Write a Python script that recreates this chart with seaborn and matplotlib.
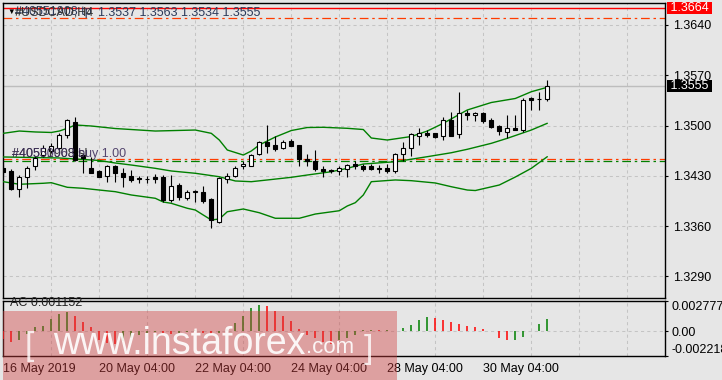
import numpy as np
import pandas as pd
import matplotlib
matplotlib.use("Agg")
import matplotlib.pyplot as plt
import matplotlib.transforms as mtransforms
from matplotlib.patches import Rectangle
import seaborn as sns

sns.set_style("white")
plt.rcParams['font.family'] = ['Liberation Sans', 'DejaVu Sans']

# ---------------- data (USDCAD H4 candles) ----------------
opens = [1.3441, 1.3436, 1.3411, 1.3429, 1.3443, 1.3459, 1.3465, 1.3468, 1.3487, 1.3505,
         1.3459, 1.3441, 1.3436, 1.3430, 1.3443, 1.3434, 1.3430, 1.3427, 1.3426, 1.3429,
         1.3428, 1.3396, 1.3417, 1.3399, 1.3407, 1.3408, 1.3398, 1.3366, 1.3426, 1.3430,
         1.3443, 1.3444, 1.3460, 1.3477, 1.3473, 1.3469, 1.3478, 1.3473, 1.3453, 1.3450,
         1.3439, 1.3438, 1.3436, 1.3440, 1.3446, 1.3444, 1.3443, 1.3441, 1.3441, 1.3436,
         1.3460, 1.3468, 1.3486, 1.3490, 1.3489, 1.3486, 1.3508, 1.3488, 1.3518, 1.3514,
         1.3518, 1.3508, 1.3500, 1.3491, 1.3496, 1.3494, 1.3538, 1.3537, 1.3537]
highs = [1.3445, 1.3440, 1.3431, 1.3444, 1.3458, 1.3473, 1.3476, 1.3490, 1.3509, 1.3512,
         1.3462, 1.3456, 1.3438, 1.3445, 1.3445, 1.3441, 1.3438, 1.3430, 1.3430, 1.3433,
         1.3431, 1.3431, 1.3420, 1.3410, 1.3410, 1.3416, 1.3399, 1.3429, 1.3434, 1.3443,
         1.3450, 1.3461, 1.3479, 1.3501, 1.3485, 1.3480, 1.3481, 1.3473, 1.3461, 1.3466,
         1.3443, 1.3440, 1.3444, 1.3447, 1.3450, 1.3446, 1.3446, 1.3445, 1.3446, 1.3462,
         1.3477, 1.3490, 1.3496, 1.3494, 1.3490, 1.3512, 1.3519, 1.3546, 1.3522, 1.3519,
         1.3519, 1.3510, 1.3501, 1.3515, 1.3515, 1.3538, 1.3539, 1.3547, 1.3563]
lows = [1.3431, 1.3410, 1.3400, 1.3413, 1.3438, 1.3456, 1.3462, 1.3466, 1.3483, 1.3450,
        1.3434, 1.3434, 1.3428, 1.3422, 1.3422, 1.3415, 1.3422, 1.3420, 1.3420, 1.3420,
        1.3394, 1.3394, 1.3396, 1.3396, 1.3394, 1.3392, 1.3357, 1.3364, 1.3420, 1.3429,
        1.3440, 1.3443, 1.3459, 1.3462, 1.3464, 1.3467, 1.3471, 1.3444, 1.3443, 1.3437,
        1.3429, 1.3434, 1.3431, 1.3429, 1.3439, 1.3437, 1.3438, 1.3434, 1.3434, 1.3434,
        1.3450, 1.3457, 1.3473, 1.3484, 1.3482, 1.3480, 1.3485, 1.3482, 1.3508, 1.3506,
        1.3504, 1.3497, 1.3487, 1.3483, 1.3494, 1.3491, 1.3521, 1.3522, 1.3534]
closes = [1.3435, 1.3411, 1.3429, 1.3441, 1.3455, 1.3469, 1.3471, 1.3487, 1.3508, 1.3452,
          1.3455, 1.3434, 1.3429, 1.3444, 1.3434, 1.3429, 1.3424, 1.3425, 1.3426, 1.3425,
          1.3396, 1.3416, 1.3401, 1.3408, 1.3409, 1.3395, 1.3368, 1.3427, 1.3430, 1.3441,
          1.3446, 1.3459, 1.3477, 1.3472, 1.3467, 1.3477, 1.3472, 1.3453, 1.3450, 1.3439,
          1.3437, 1.3436, 1.3441, 1.3445, 1.3443, 1.3439, 1.3440, 1.3439, 1.3437, 1.3461,
          1.3468, 1.3488, 1.3490, 1.3487, 1.3484, 1.3508, 1.3486, 1.3518, 1.3514, 1.3518,
          1.3506, 1.3498, 1.3493, 1.3496, 1.3494, 1.3536, 1.3535, 1.3537, 1.3555]

# Bollinger bands (read at selected candles)
bb_upper_idx = [0, 2, 4, 6, 7, 8, 9, 11, 14, 19, 24, 26, 27, 28, 30, 31, 32, 34, 36, 38,
                40, 43, 45, 46, 48, 51, 53, 55, 58, 61, 64, 66, 68]
bb_upper = [1.34891, 1.34923, 1.34910, 1.34903, 1.34923, 1.34961, 1.35007, 1.34993, 1.34958,
            1.34923, 1.34937, 1.34891, 1.34798, 1.34659, 1.34589, 1.34645, 1.34729, 1.34840,
            1.34930, 1.34972, 1.34975, 1.34961, 1.34944, 1.34826, 1.34798, 1.34847, 1.34923,
            1.35031, 1.35216, 1.35320, 1.35376, 1.35470, 1.35532]
bb_mid_idx = [0, 7, 12, 14, 16, 19, 21, 24, 27, 29, 31, 33, 36, 38, 41, 43, 45, 49, 53, 56,
              58, 61, 63, 66, 68]
bb_mid = [1.34562, 1.34548, 1.34513, 1.34478, 1.34450, 1.34404, 1.34367, 1.34335, 1.34287,
          1.34228, 1.34218, 1.34242, 1.34279, 1.34311, 1.34357, 1.34404, 1.34464, 1.34496,
          1.34566, 1.34621, 1.34669, 1.34752, 1.34822, 1.34937, 1.35031]
bb_lower_idx = [0, 2, 5, 6, 8, 10, 12, 14, 16, 19, 20, 21, 23, 24, 25, 26, 27, 28, 30, 32,
                34, 37, 39, 42, 43, 44, 45, 46, 49, 51, 54, 56, 58, 59, 62, 64, 66, 68]
bb_lower = [1.34218, 1.34182, 1.34196, 1.34204, 1.34140, 1.34126, 1.34102, 1.34079, 1.34033,
            1.33987, 1.33935, 1.33917, 1.33848, 1.33824, 1.33754, 1.33685, 1.33699, 1.33800,
            1.33838, 1.33786, 1.33709, 1.33709, 1.33768, 1.33814, 1.33880, 1.33926, 1.34033,
            1.34218, 1.34242, 1.34232, 1.34200, 1.34148, 1.34102, 1.34095, 1.34172, 1.34283,
            1.34404, 1.34566]

# Accelerator oscillator
ac_values = [-0.00073, -0.00100, -0.00082, -0.00027, 0.00039, 0.00045, 0.00115, 0.00161,
             0.00175, 0.00139, 0.00084, 0.00039, -0.00082, -0.00109, -0.00118, -0.00091,
             -0.00064, -0.00036, -0.00018, -0.00009, -0.00018, -0.00027, -0.00018, -0.00009,
             0.00009, -0.00018, -0.00027, -0.00018, 0.00018, 0.00079, 0.00136, 0.00215,
             0.00242, 0.00227, 0.00184, 0.00136, 0.00091, 0.00025, -0.00030, -0.00061,
             -0.00097, -0.00112, -0.00082, -0.00061, -0.00030, 0.00009, 0.00012, 0.00008,
             0.00010, 0.00002, 0.00030, 0.00054, 0.00100, 0.00127, 0.00118, 0.00100,
             0.00082, 0.00064, 0.00045, 0.00041, 0.00021, 0.00006, -0.00061, -0.00079,
             -0.00075, -0.00052, 0.00003, 0.00066, 0.001152]

x_label_idx = [0, 12, 24, 36, 48, 60]
x_labels = ["16 May 2019", "20 May 04:00", "22 May 04:00", "24 May 04:00",
            "28 May 04:00", "30 May 04:00"]
price_ticks = [1.3290, 1.3360, 1.3430, 1.3500, 1.3570, 1.3640]
ac_ticks = [-0.002218, 0.0, 0.002777]
ac_tick_labels = ["-0.002218", "0.00", "0.002777"]

level_red = 1.3664
level_tp = 1.3650
level_sl = 1.3454
level_buy = 1.3450
last_price = 1.3555

# ---------------- figure ----------------
W, H = 722, 380
BG = "#e6e6e6"
GRID = "#c4c4c4"
fig = plt.figure(figsize=(W / 100, H / 100), dpi=100, facecolor=BG)
ax = fig.add_axes([2.7 / W, 1 - 298.3 / H, (665 - 2.7) / W, (298.3 - 3) / H])
ax2 = fig.add_axes([2.7 / W, 1 - 355.7 / H, (665 - 2.7) / W, (355.7 - 300.7) / H])

df = pd.DataFrame({"o": opens, "h": highs, "l": lows, "c": closes})
df["i"] = np.arange(len(df))
bull = df["c"] >= df["o"]

for a in (ax, ax2):
    a.set_facecolor(BG)
    for s in a.spines.values():
        s.set_color("black")
        s.set_linewidth(1.0)
    a.set_xlim(-0.075, 82.71)
    a.set_xticks(np.arange(6, 83, 6), minor=True)
    a.grid(True, which="minor", axis="x", color=GRID, lw=0.75, ls=(0, (3, 3)))
    a.tick_params(axis="x", which="minor", length=0)

# main panel
ax.set_ylim(1.325952, 1.367048)
ax.set_xticks([])
ax.yaxis.tick_right()
ax.set_yticks(price_ticks)
ax.set_yticklabels([f"{p:.4f}" for p in price_ticks])
ax.grid(True, which="major", axis="y", color=GRID, lw=0.75, ls=(0, (3, 3)))
ax.tick_params(axis="y", length=2.5, width=0.8, pad=3.5, labelsize=9, colors="black")

ax.axhline(last_price, color="#bdbdbd", lw=1.0, zorder=1)
ax.axhline(level_red, color="red", lw=1.0, zorder=2)
for lv, col in ((level_tp, "#ff3c00"), (level_sl, "#ff3c00"), (level_buy, "#008000")):
    ax.axhline(lv, color=col, lw=0.9, ls=(0, (7, 3, 2, 3)), zorder=2)

for idx, vals in ((bb_upper_idx, bb_upper), (bb_mid_idx, bb_mid), (bb_lower_idx, bb_lower)):
    sns.lineplot(x=idx, y=vals, ax=ax, color="#008000", lw=1.0, zorder=3, legend=False)

ax.vlines(df["i"], df["l"], df["h"], color="black", lw=0.8, zorder=4)
ax.bar(df["i"], (df["c"] - df["o"]).abs(), bottom=df[["o", "c"]].min(axis=1), width=0.5,
       color=np.where(bull, "white", "black"), edgecolor="black", linewidth=0.8, zorder=5)

tr = mtransforms.blended_transform_factory(ax.transAxes, ax.transData)
ax.text(1 + 2.0 / 662.3, level_red, " 1.3664 ", transform=tr, ha="left", va="center",
        fontsize=9, color="white", clip_on=False,
        bbox=dict(boxstyle="square,pad=0.0", fc="red", ec="none"))
ax.text(1 + 2.0 / 662.3, last_price, " 1.3555 ", transform=tr, ha="left", va="center",
        fontsize=9, color="white", clip_on=False,
        bbox=dict(boxstyle="square,pad=0.0", fc="black", ec="none"))

# header / order texts
fig.text(7 / W, 1 - 12.5 / H, "▼", fontsize=5.5, color="black", va="center", ha="left")
fig.text(15 / W, 1 - 12.5 / H, "#40551908 tp", fontsize=9, color="#2c3a5a", va="center", ha="left")
fig.text(15 / W, 1 - 12.5 / H, "#USDCAD,H4", fontsize=9, color="#333333", va="center", ha="left")
fig.text(98 / W, 1 - 12.5 / H, "1.3537 1.3563 1.3534 1.3555", fontsize=9, color="#2c3a5a",
         va="center", ha="left")
fig.text(12 / W, 1 - 154 / H, "#40551908 sl", fontsize=9, color="#3a3a3a", va="center", ha="left")
fig.text(12 / W, 1 - 154 / H, "#40550063 buy 1.00", fontsize=9, color="#3b2a5a", va="center",
         ha="left", alpha=0.85)

# AC panel
ax2.set_ylim(ac_ticks[0], ac_ticks[-1])
ac_colors = ["red"] + ["#008000" if ac_values[k] > ac_values[k - 1] else "red"
                       for k in range(1, len(ac_values))]
ax2.vlines(np.arange(len(ac_values)), 0, ac_values, colors=ac_colors, lw=1.1, zorder=3)
ax2.yaxis.tick_right()
ax2.set_yticks(ac_ticks)
ax2.set_yticklabels(ac_tick_labels)
ax2.grid(True, which="major", axis="y", color=GRID, lw=0.75, ls=(0, (3, 3)))
ax2.tick_params(axis="y", length=2.5, width=0.8, pad=2.5, labelsize=9, colors="black")
ylabs = ax2.get_yticklabels()
ylabs[0].set_va("bottom")
ylabs[-1].set_va("top")
ax2.set_xticks(x_label_idx)
ax2.set_xticklabels(x_labels, ha="left")
ax2.tick_params(axis="x", which="major", length=3.5, width=0.8, pad=2, labelsize=9,
                colors="black")
ax2.text(7 / 662.3, 0.002777 - 0.00025, "AC 0.001152",
         transform=mtransforms.blended_transform_factory(ax2.transAxes, ax2.transData),
         fontsize=9, color="#222222", va="center", ha="left")

# watermark overlay
fig.add_artist(Rectangle((3 / W, 0), (397 - 3) / W, (380 - 311) / H, transform=fig.transFigure,
                         facecolor=(0.82, 0.25, 0.25), alpha=0.42, edgecolor="none", zorder=10))
fig.text(53 / W, 1 - 354 / H, "www.instaforex", fontsize=27, color="white", alpha=0.9,
         va="baseline", ha="left", zorder=11)
fig.text(306 / W, 1 - 353 / H, ".com", fontsize=16, color="white", alpha=0.9,
         va="baseline", ha="left", zorder=11)
fig.text(25 / W, 1 - 355 / H, "[", fontsize=24, color="white", alpha=0.8,
         va="baseline", ha="left", zorder=11)
fig.text(364 / W, 1 - 358 / H, "]", fontsize=24, color="white", alpha=0.8,
         va="baseline", ha="left", zorder=11)

fig.savefig("out.png", dpi=100, facecolor=BG)
